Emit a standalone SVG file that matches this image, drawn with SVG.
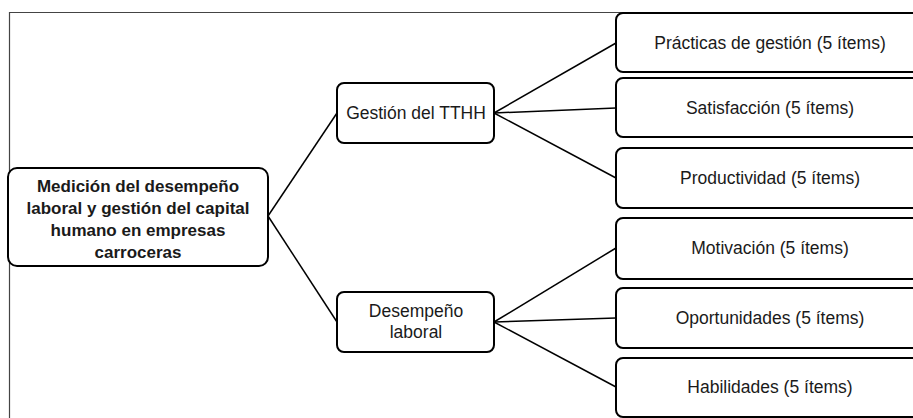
<svg xmlns="http://www.w3.org/2000/svg" width="913" height="418" viewBox="0 0 913 418">
<style>
.frame{fill:none;stroke:#444;stroke-width:1.2}
.box{fill:#fff;stroke:#000;stroke-width:2}
.lbl{font-family:"Liberation Sans",Arial,sans-serif;font-size:17.5px;fill:#1a1a1a;text-anchor:middle}
.bold{font-weight:bold;font-size:17px}
.conn line{stroke:#000;stroke-width:1.5}
</style>
<rect width="913" height="418" fill="#fff"/>
<path class="frame" d="M9.5 418 V12.5 H913"/>
<g id="connectors" class="conn">
<line x1="268" y1="216" x2="337" y2="113"/>
<line x1="268" y1="216" x2="337" y2="322"/>
<line x1="494" y1="113" x2="616" y2="43"/>
<line x1="494" y1="113" x2="616" y2="108"/>
<line x1="494" y1="113" x2="616" y2="178"/>
<line x1="494" y1="322" x2="616" y2="248"/>
<line x1="494" y1="322" x2="616" y2="318"/>
<line x1="494" y1="322" x2="616" y2="387"/>
</g>
<g id="root">
<rect class="box" x="8" y="168" width="260" height="98" rx="9"/>
<text class="lbl bold" x="138" y="192">Medición del desempeño</text>
<text class="lbl bold" x="138" y="214">laboral y gestión del capital</text>
<text class="lbl bold" x="138" y="236">humano en empresas</text>
<text class="lbl bold" x="138" y="258">carroceras</text>
</g>
<g id="gestion">
<rect class="box" x="337" y="83" width="157" height="60" rx="7"/>
<text class="lbl" x="416" y="119">Gestión del TTHH</text>
</g>
<g id="desempeno">
<rect class="box" x="337" y="292" width="157" height="60" rx="7"/>
<text class="lbl" x="416" y="317">Desempeño</text>
<text class="lbl" x="416" y="338">laboral</text>
</g>
<g id="practicas">
<rect class="box" x="616" y="13" width="310" height="59" rx="7"/>
<text class="lbl" x="770" y="49">Prácticas de gestión (5 ítems)</text>
</g>
<g id="satisfaccion">
<rect class="box" x="616" y="78" width="310" height="59" rx="7"/>
<text class="lbl" x="770" y="114">Satisfacción (5 ítems)</text>
</g>
<g id="productividad">
<rect class="box" x="616" y="148" width="310" height="60" rx="7"/>
<text class="lbl" x="770" y="184">Productividad (5 ítems)</text>
</g>
<g id="motivacion">
<rect class="box" x="616" y="218" width="310" height="61" rx="7"/>
<text class="lbl" x="770" y="254">Motivación (5 ítems)</text>
</g>
<g id="oportunidades">
<rect class="box" x="616" y="288" width="310" height="60" rx="7"/>
<text class="lbl" x="770" y="324">Oportunidades (5 ítems)</text>
</g>
<g id="habilidades">
<rect class="box" x="616" y="358" width="310" height="59" rx="7"/>
<text class="lbl" x="770" y="393">Habilidades (5 ítems)</text>
</g>
</svg>
